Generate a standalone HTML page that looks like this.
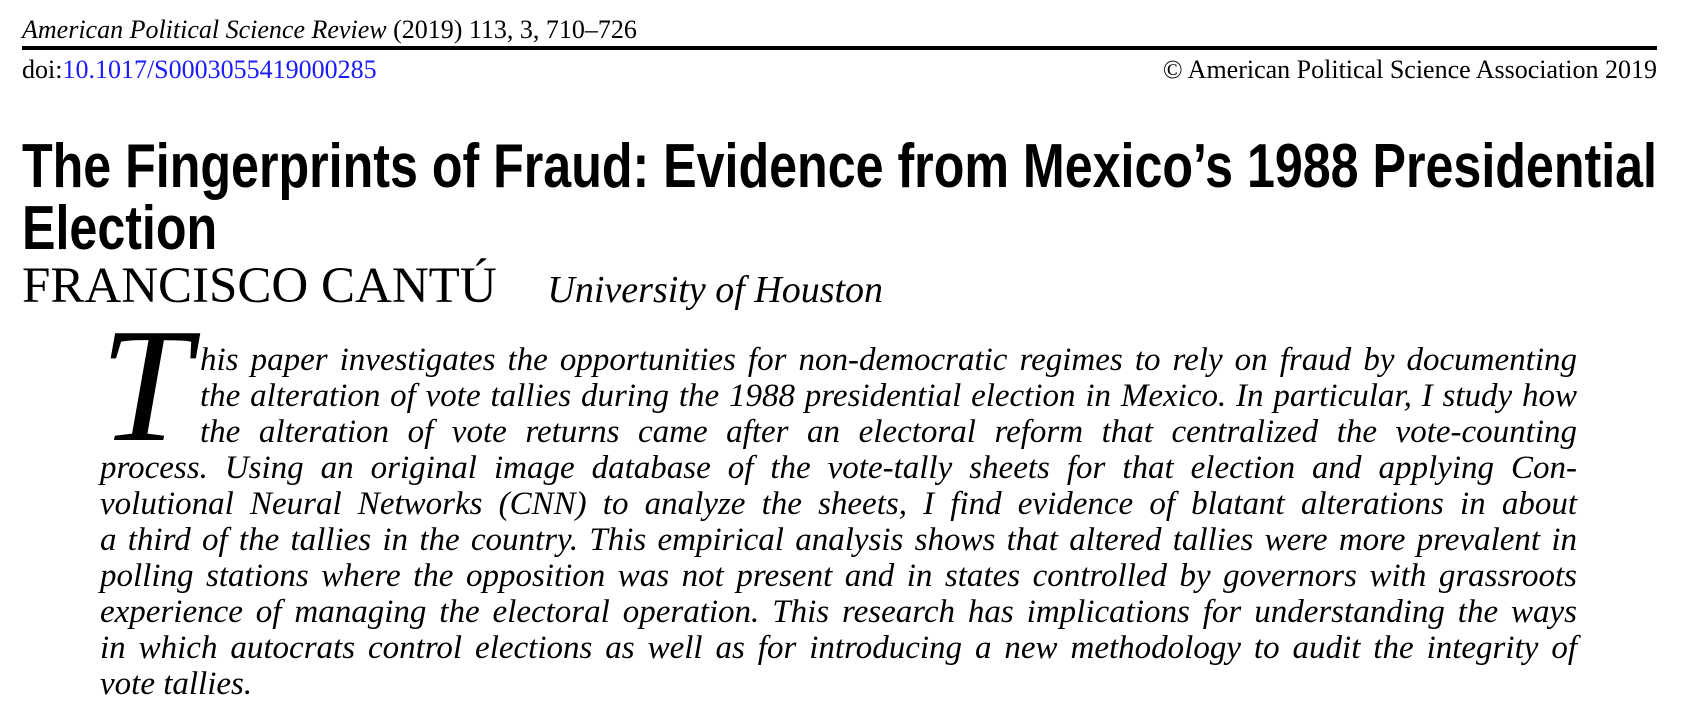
<!DOCTYPE html>
<html><head><meta charset="utf-8">
<style>
body{margin:0;width:1692px;height:718px;background:#fff;position:relative;overflow:hidden;color:#000;font-family:"Liberation Serif",serif}
.a{position:absolute;white-space:nowrap;line-height:1}
.t{font-family:"Liberation Sans Narrow","Liberation Sans",sans-serif;font-weight:bold;font-size:62px;transform-origin:0 0;left:22px}
.ab{position:absolute;font-style:italic;font-size:33px;line-height:1;text-align:justify;text-align-last:justify;white-space:nowrap;right:115px}
</style></head><body>
<div class="a" style="left:22px;top:17px;font-size:26px"><i>American Political Science Review</i> (2019) 113, 3, 710–726</div>
<div style="position:absolute;left:22px;top:46px;width:1635px;height:4px;background:#000"></div>
<div class="a" style="left:22px;top:57px;font-size:26px">doi:<span style="color:#1a1aff">10.1017/S0003055419000285</span></div>
<div class="a" style="right:35px;top:57px;font-size:26px">© American Political Science Association 2019</div>
<div class="a t" id="t1" style="top:136px">The Fingerprints of Fraud: Evidence from Mexico’s 1988 Presidential</div>
<div class="a t" id="t2" style="top:198px">Election</div>
<div class="a" style="left:22px;top:261px;font-size:51px">FRANCISCO CANTÚ <i style="font-size:38px;margin-left:38px">University of Houston</i></div>
<div class="a" style="left:100px;top:305px;font-size:163px;font-style:italic">T</div>
<div>
<div class="ab" style="left:200px;top:344px">his paper investigates the opportunities for non-democratic regimes to rely on fraud by documenting</div>
<div class="ab" style="left:200px;top:380px">the alteration of vote tallies during the 1988 presidential election in Mexico. In particular, I study how</div>
<div class="ab" style="left:200px;top:416px">the alteration of vote returns came after an electoral reform that centralized the vote-counting</div>
<div class="ab" style="left:100px;top:452px">process. Using an original image database of the vote-tally sheets for that election and applying Con-</div>
<div class="ab" style="left:100px;top:488px">volutional Neural Networks (CNN) to analyze the sheets, I find evidence of blatant alterations in about</div>
<div class="ab" style="left:100px;top:524px">a third of the tallies in the country. This empirical analysis shows that altered tallies were more prevalent in</div>
<div class="ab" style="left:100px;top:560px">polling stations where the opposition was not present and in states controlled by governors with grassroots</div>
<div class="ab" style="left:100px;top:596px">experience of managing the electoral operation. This research has implications for understanding the ways</div>
<div class="ab" style="left:100px;top:632px">in which autocrats control elections as well as for introducing a new methodology to audit the integrity of</div>
<div class="ab" style="left:100px;top:668px;text-align-last:left">vote tallies.</div>
</div>
<script>
var t1=document.getElementById('t1'),t2=document.getElementById('t2');
var s=1635/t1.getBoundingClientRect().width;
t1.style.transform='scaleX('+s+')';t2.style.transform='scaleX('+s+')';
document.querySelectorAll('.ab').forEach(function(e){
  var avail=e.clientWidth;
  for(var i=0;i<3&&e.scrollWidth>avail+1;i++){
    var cur=parseFloat(e.style.letterSpacing)||0;
    e.style.letterSpacing=(cur-(e.scrollWidth-avail)/e.textContent.length)+'px';
  }
});
</script>
</body></html>
